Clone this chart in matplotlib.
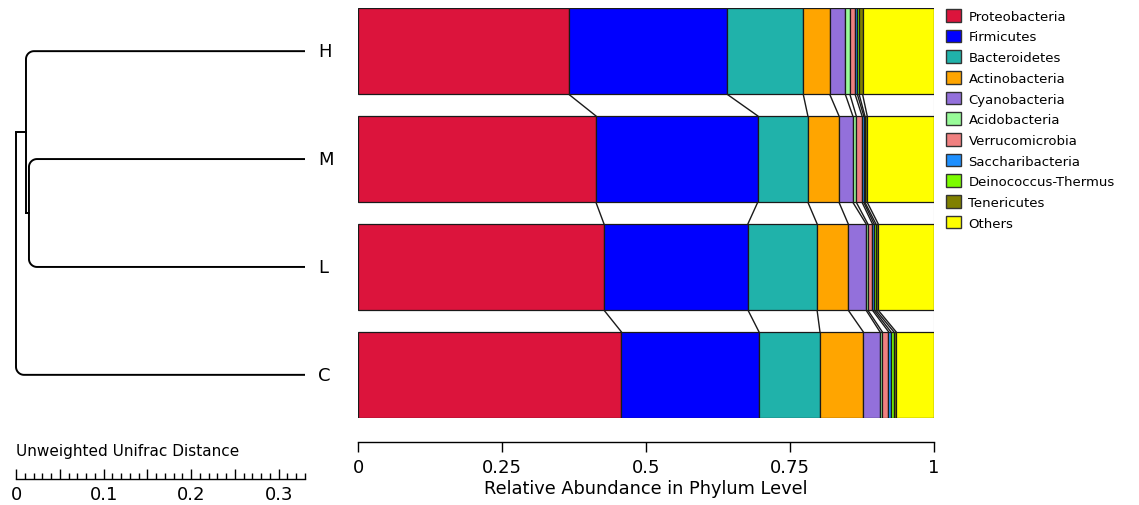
import matplotlib
matplotlib.use("Agg")
import matplotlib.pyplot as plt
from matplotlib.patches import Patch
from matplotlib.ticker import FixedLocator
import numpy as np

# samples top -> bottom
samples = ["H", "M", "L", "C"]
phyla = ["Proteobacteria", "Firmicutes", "Bacteroidetes", "Actinobacteria",
         "Cyanobacteria", "Acidobacteria", "Verrucomicrobia", "Saccharibacteria",
         "Deinococcus-Thermus", "Tenericutes", "Others"]
colors = ["#DC143C", "#0000FF", "#20B2AA", "#FFA500", "#9370DB", "#98FB98",
          "#F08080", "#1E90FF", "#7CFC00", "#808000", "#FFFF00"]

# relative abundance, one list per sample (same order as phyla)
abund_H = [0.366, 0.275, 0.132, 0.046, 0.027, 0.008, 0.009, 0.004, 0.003, 0.006, 0.124]
abund_M = [0.413, 0.281, 0.087, 0.054, 0.024, 0.006, 0.010, 0.003, 0.002, 0.004, 0.116]
abund_L = [0.427, 0.250, 0.120, 0.054, 0.031, 0.003, 0.008, 0.003, 0.003, 0.004, 0.097]
abund_C = [0.457, 0.239, 0.106, 0.075, 0.029, 0.004, 0.011, 0.004, 0.005, 0.004, 0.066]

# dendrogram node heights (unweighted unifrac distance from root)
node_HML = 0.0114
node_ML = 0.0148
leaf_x = 0.33
scale_ticks = [0, 0.1, 0.2, 0.3]
bar_ticks = [0, 0.25, 0.5, 0.75, 1]
bar_ticklabels = ["0", "0.25", "0.5", "0.75", "1"]

W, H = 1139, 506
fig = plt.figure(figsize=(W / 100, H / 100), dpi=100)

data = np.array([abund_H, abund_M, abund_L, abund_C])
data = data / data.sum(axis=1, keepdims=True)
cum = np.cumsum(data, axis=1)
left = cum - data
bh = 0.8
ypos = np.arange(len(samples))

# ---- stacked bars
ax = fig.add_axes([358 / W, (H - 419) / H, 576 / W, 410 / H])
for j, name in enumerate(phyla):
    ax.barh(ypos, data[:, j], left=left[:, j], height=bh, color=colors[j],
            edgecolor="#1a1a1a", linewidth=0.9, zorder=2)
# connecting lines between bars
for i in range(len(samples) - 1):
    for k in range(len(phyla) - 1):
        ax.plot([cum[i, k], cum[i + 1, k]], [i + bh / 2, i + 1 - bh / 2],
                color="#1a1a1a", lw=1.0, zorder=1)
ax.plot([1, 1], [-bh / 2, len(samples) - 1 + bh / 2], color="#aaaaaa", lw=0.8, zorder=0)
ax.set_xlim(0, 1)
ax.set_ylim(len(samples) - 1 + bh / 2, -bh / 2)
for s in ["top", "right", "left"]:
    ax.spines[s].set_visible(False)
ax.spines["bottom"].set_position(("outward", 17))
ax.spines["bottom"].set_linewidth(1.0)
ax.set_yticks([])
ax.set_xticks(bar_ticks)
ax.set_xticklabels(bar_ticklabels)
ax.tick_params(axis="x", direction="out", length=7, width=1.0, labelsize=13, pad=5)
ax.set_xlabel("Relative Abundance in Phylum Level", fontsize=12.8, labelpad=2)

# ---- dendrogram
px_per_unit = 289 / 0.33
xl = (-16 / px_per_unit, (350 - 16) / px_per_unit)
dax = fig.add_axes([0, (H - 419) / H, 350 / W, 410 / H])
dax.set_xlim(*xl)
dax.set_ylim(len(samples) - 1 + bh / 2, -bh / 2)
dax.axis("off")

rx = 8 / px_per_unit
ry = 8 / 108


def elbow(x0, y0, y1, x1):
    # vertical from (x0,y0) to y1, rounded corner, horizontal to x1
    sgn = 1 if y1 > y0 else -1
    t = np.linspace(np.pi, np.pi / 2, 15)
    cx, cy = x0 + rx, y1 - sgn * ry
    xs = [x0] + list(cx + rx * np.cos(t)) + [x1]
    ys = [y0] + list(cy + sgn * ry * np.sin(t)) + [y1]
    dax.plot(xs, ys, color="black", lw=1.4, solid_capstyle="butt")


y_ML = 1.5
y_HML = (0 + y_ML) / 2
elbow(node_ML, y_ML, 1, leaf_x)
elbow(node_ML, y_ML, 2, leaf_x)
elbow(node_HML, y_HML, 0, leaf_x)
dax.plot([node_HML, node_HML], [y_HML, y_ML], color="black", lw=1.4)
dax.plot([node_HML, node_ML], [y_ML, y_ML], color="black", lw=1.4)
elbow(0, y_HML, 3, leaf_x)
dax.plot([0, node_HML], [y_HML, y_HML], color="black", lw=1.4)
for i, s in enumerate(samples):
    dax.text(leaf_x + 13 / px_per_unit, i, s, fontsize=13, ha="left", va="center")

# ---- distance scale bar
sax = fig.add_axes([0, (H - 480) / H, 350 / W, 20 / H])
sax.set_xlim(*xl)
sax.set_ylim(0, 1)
for s in ["top", "right", "left"]:
    sax.spines[s].set_visible(False)
sax.spines["bottom"].set_bounds(0, 0.33)
sax.spines["bottom"].set_linewidth(1.0)
sax.set_yticks([])
major = [0, 0.05, 0.1, 0.15, 0.2, 0.25, 0.3]
minor = [v / 100 for v in range(0, 34) if v % 5 != 0]
sax.xaxis.set_major_locator(FixedLocator(major))
sax.xaxis.set_minor_locator(FixedLocator(minor))
sax.set_xticklabels([("%g" % v) if v in scale_ticks else "" for v in major])
sax.tick_params(axis="x", which="major", direction="in", length=7, width=1.0, labelsize=13, pad=4)
sax.tick_params(axis="x", which="minor", direction="in", length=4, width=1.0)
sax.text(0, 1.05, "Unweighted Unifrac Distance", fontsize=11, ha="left", va="bottom",
         transform=sax.get_xaxis_transform())

# ---- legend
handles = [Patch(facecolor=c, edgecolor="#333333", linewidth=1.0) for c in colors]
fig.legend(handles, phyla, loc="upper left", bbox_to_anchor=(946 / W, (H - 10) / H),
           frameon=False, fontsize=9.5, handlelength=1.1, handleheight=1.1,
           handletextpad=0.6, labelspacing=0.52, borderpad=0, borderaxespad=0)

fig.savefig("out.png", dpi=100)
